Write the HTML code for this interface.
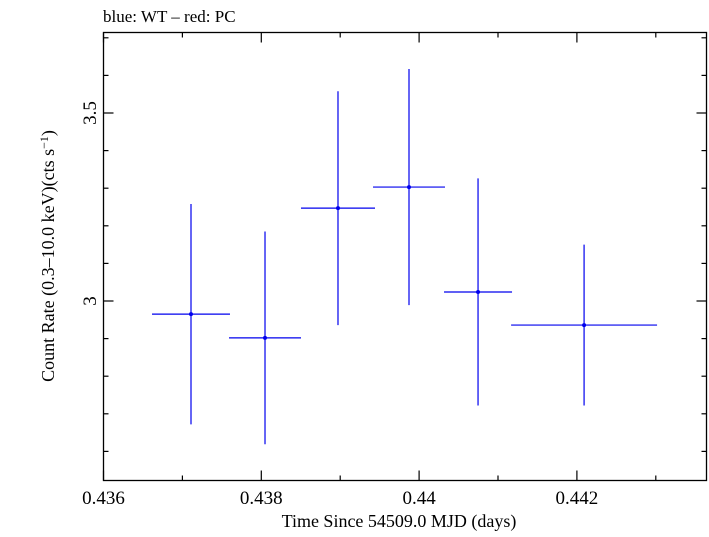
<!DOCTYPE html>
<html><head><meta charset="utf-8"><style>
html,body{margin:0;padding:0;background:#fff;}
svg text{font-family:"Liberation Serif",serif;fill:#000;}
</style></head><body>
<svg id="chart" width="709" height="532" viewBox="0 0 709 532" xmlns="http://www.w3.org/2000/svg">
<text x="103" y="22" font-size="17">blue: WT – red: PC</text>
<rect x="103.5" y="32.5" width="603" height="448" fill="none" stroke="#000" stroke-width="1.3"/>
<g id="axes"></g>
<g id="series"></g>
<text x="399" y="527" font-size="18" text-anchor="middle">Time Since 54509.0 MJD (days)</text>
<text transform="translate(54,256) rotate(-90)" font-size="18" text-anchor="middle">Count Rate (0.3–10.0 keV)(cts s<tspan dy="-6" font-size="12">−1</tspan><tspan dy="6">)</tspan></text>
</svg>
<script>
const times=[0.437109,0.438047,0.438972,0.439872,0.440747,0.442091];
const timeErr=[0.000494,0.000456,0.000469,0.000456,0.000431,0.000925];
const rates=[2.965,2.902,3.247,3.303,3.024,2.936];
const rateErr=[0.293,0.283,0.311,0.314,0.302,0.214];
const xTickVals=[0.436,0.438,0.44,0.442];
const xTickLabels=["0.436","0.438","0.44","0.442"];
const yTickVals=[3,3.5];
const yTickLabels=["3","3.5"];
const NS="http://www.w3.org/2000/svg";
function X(t){return 103.5+(t-0.436)*78900;}
function Y(v){return 301-(v-3)*376;}
const axes=document.getElementById('axes');
const ser=document.getElementById('series');
function ln(p,x1,y1,x2,y2,c,w,name){const l=document.createElementNS(NS,'line');
l.setAttribute('x1',x1);l.setAttribute('y1',y1);l.setAttribute('x2',x2);l.setAttribute('y2',y2);
l.setAttribute('stroke',c);l.setAttribute('stroke-width',w);


p.appendChild(l);return l;}
for(let i=0;i<=7;i++){const t=0.436+i*0.001;const x=X(t);const major=i%2===0;const len=major?10:5;
ln(axes,x,480.5,x,480.5-len,'#000',1.2,'x-tick');ln(axes,x,32.5,x,32.5+len,'#000',1.2,'x-tick-top');}
for(let i=0;i<12;i++){const v=2.6+i*0.1;const y=Y(v);if(y<32||y>481)continue;const major=Math.abs(v-3)<1e-6||Math.abs(v-3.5)<1e-6;const len=major?10:5;
ln(axes,103.5,y,103.5+len,y,'#000',1.2,'y-tick');ln(axes,706.5,y,706.5-len,y,'#000',1.2,'y-tick-right');}
xTickVals.forEach((t,i)=>{const tx=document.createElementNS(NS,'text');
tx.setAttribute('x',X(t));tx.setAttribute('y',504);tx.setAttribute('font-size','19');tx.setAttribute('text-anchor','middle');
tx.textContent=xTickLabels[i];


axes.appendChild(tx);});
yTickVals.forEach((v,i)=>{const tx=document.createElementNS(NS,'text');
tx.setAttribute('transform','translate(96,'+Y(v)+') rotate(-90)');tx.setAttribute('font-size','19');tx.setAttribute('text-anchor','middle');
tx.textContent=yTickLabels[i];


axes.appendChild(tx);});
times.forEach((t,i)=>{const x=X(t),y=Y(rates[i]);
ln(ser,X(t-timeErr[i]),y,X(t+timeErr[i]),y,'#0000ee',1.2,'x-error-bar');
ln(ser,x,Y(rates[i]+rateErr[i]),x,Y(rates[i]-rateErr[i]),'#0000ee',1.2,'y-error-bar');
const c=document.createElementNS(NS,'circle');c.setAttribute('cx',x);c.setAttribute('cy',y);c.setAttribute('r',2);c.setAttribute('fill','#0000ee');


ser.appendChild(c);});
</script>
</body></html>
